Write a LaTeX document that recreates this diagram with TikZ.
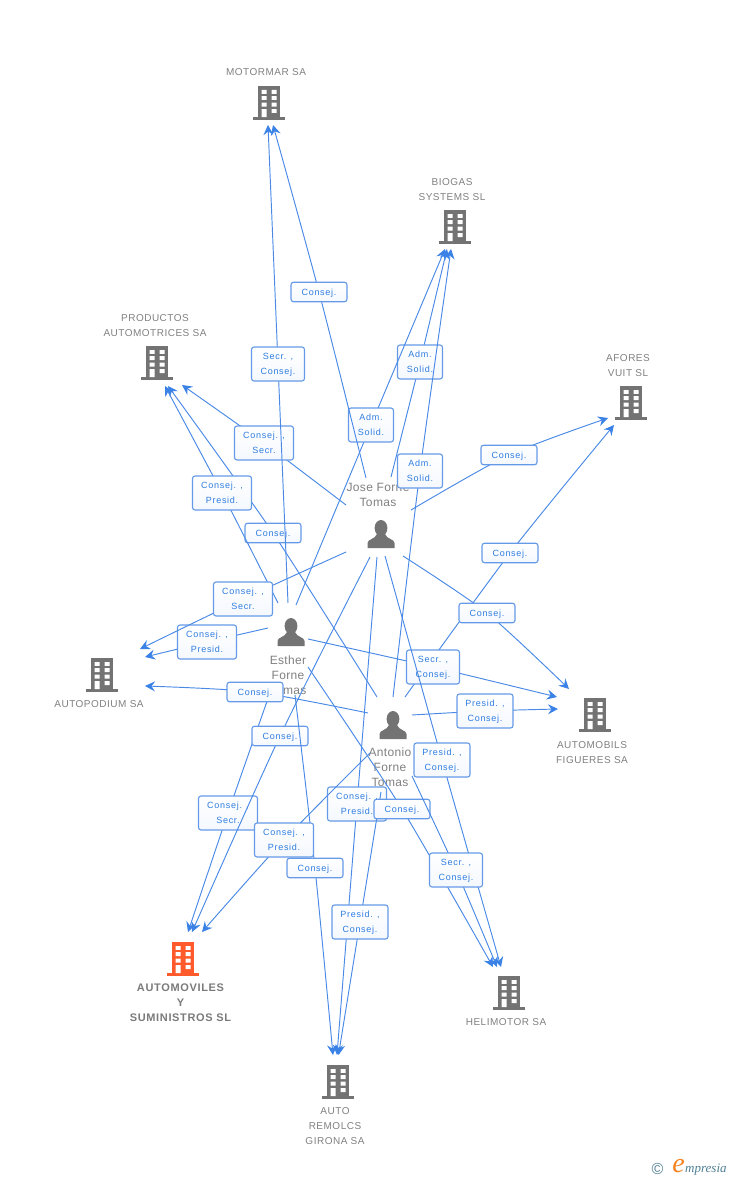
\documentclass[tikz,border=0pt]{standalone}
\usepackage{fontspec}
\setmainfont{Liberation Sans}
\newfontfamily\boxf[LetterSpace=8]{Liberation Sans}
\newfontfamily\orgf[LetterSpace=5]{Liberation Sans}
\newfontfamily\perf[LetterSpace=3]{Liberation Sans}
\newfontfamily\mainorgf[LetterSpace=6]{Liberation Sans}
\newfontfamily\logof{Liberation Serif}
\usetikzlibrary{arrows.meta}
\definecolor{linkblue}{HTML}{4A8AE6}
\definecolor{tipblue}{HTML}{3B82E6}
\definecolor{boxline}{HTML}{659AE8}
\definecolor{boxtext}{HTML}{2F7DE0}
\definecolor{greytext}{HTML}{808080}
\definecolor{icongrey}{HTML}{737373}
\definecolor{iconorange}{HTML}{FF5A2B}
\definecolor{logoteal}{HTML}{4F7F94}
\definecolor{logoorange}{HTML}{F58220}
\tikzset{
  lab/.style={draw=boxline,line width=1.1pt,rounded corners=2.5pt,top color=white,bottom color=white!93!boxline,
    font=\boxf\fontsize{9}{15}\selectfont,text=boxtext,align=center,inner sep=0pt,text depth=0pt,minimum width=#1,minimum height=34pt},
  labone/.style={lab=#1,minimum height=19.5pt},
  link/.style={draw=linkblue,line width=.95pt,-{Stealth[length=10pt,width=10pt,inset=3.5pt,color=tipblue]}},
  orgtext/.style={font=\orgf\fontsize{10}{15}\selectfont,text=greytext,align=center,inner sep=0pt},
  mainorgtext/.style={font=\mainorgf\bfseries\fontsize{11}{15}\selectfont,text=greytext!95!black,align=center,inner sep=0pt},
  pertext/.style={font=\perf\fontsize{12}{15}\selectfont,text=greytext,align=center,inner sep=0pt},
  building/.pic={
    \fill[pic actions] (-11.2,-17) rectangle (11.2,15);
    \fill[pic actions] (-16,14.2) rectangle (16,17);
    \fill[white] (-7.3,-13) rectangle (-2.3,-9.2) (2.7,-13) rectangle (7.7,-9.2)
                 (-7.3,-6.8) rectangle (-2.3,-3) (2.7,-6.8) rectangle (7.7,-3)
                 (-7.3,-.4) rectangle (-2.3,3.6) (2.7,-.4) rectangle (7.7,3.6)
                 (-7.3,6.2) rectangle (-2.3,14.2) (2.7,6.2) rectangle (7.7,10);
  },
  personicon/.pic={
    \fill[icongrey] (0,-6) ellipse (6.4 and 8);
    \fill[icongrey] (-13.5,14) -- (-13.5,9) .. controls (-13.5,5) and (-6,5.5) .. (-4,0)
      -- (4,0) .. controls (6,5.5) and (13.5,5) .. (13.5,9) -- (13.5,14) -- cycle;
  }
}
% from, label name, label position, to, label text, style with width
\newcommand\conn[6]{%
  \coordinate (#2c) at (#3);
  \draw[link] plot[smooth,tension=.45] coordinates {(#1) (#2c) (#4)};
  \node[#6] (#2) at (#2c) {#5};
}
\begin{document}
\begin{tikzpicture}[x=1pt,y=-1pt]
\useasboundingbox (0,0) rectangle (728,1180);

% organisations
\pic[fill=icongrey] at (269,103) {building};
\node[orgtext] (motormar) at (266,72.5) {MOTORMAR SA};
\pic[fill=icongrey] at (455,227) {building};
\node[orgtext] (biogas) at (452,189.5) {BIOGAS\\SYSTEMS SL};
\pic[fill=icongrey] at (157,363) {building};
\node[orgtext] (productos) at (155,326) {PRODUCTOS\\AUTOMOTRICES SA};
\pic[fill=icongrey] at (631,403) {building};
\node[orgtext] (afores) at (628,366) {AFORES\\VUIT SL};
\pic[fill=icongrey] at (102,675) {building};
\node[orgtext] (autopodium) at (99,704.5) {AUTOPODIUM SA};
\pic[fill=icongrey] at (595,715) {building};
\node[orgtext] (automobils) at (592,752.5) {AUTOMOBILS\\FIGUERES SA};
\pic[fill=iconorange] at (183,959) {building};
\node[mainorgtext] (automoviles) at (180.5,1003) {AUTOMOVILES\\Y\\SUMINISTROS SL};
\pic[fill=icongrey] at (509,993) {building};
\node[orgtext] (helimotor) at (506,1022.5) {HELIMOTOR SA};
\pic[fill=icongrey] at (338,1082) {building};
\node[orgtext] (remolcs) at (335,1126.5) {AUTO\\REMOLCS\\GIRONA SA};

% people
\pic at (381,534) {personicon};
\node[pertext] (jose) at (378,494.5) {Jose Forne\\Tomas};
\pic at (291,632) {personicon};
\node[pertext] (esther) at (288,675) {Esther\\Forne\\Tomas};
\pic at (393,725) {personicon};
\node[pertext] (antonio) at (390,767.5) {Antonio\\Forne\\Tomas};

% connector ends at the organisations
\coordinate (tMa) at (268,125);  \coordinate (tMb) at (273,125);
\coordinate (tBa) at (445,249);  \coordinate (tBb) at (447,249);  \coordinate (tBc) at (451,249);
\coordinate (tPa) at (165,386);  \coordinate (tPb) at (168,386);  \coordinate (tPc) at (182,385);
\coordinate (tAa) at (608,418);  \coordinate (tAb) at (614,425);
\coordinate (tUa) at (140,649);  \coordinate (tUb) at (145,657);  \coordinate (tUc) at (145,686);
\coordinate (tFa) at (569,689);  \coordinate (tFb) at (557,697);  \coordinate (tFc) at (558,709);
\coordinate (tSa) at (188,932);  \coordinate (tSb) at (192,932);  \coordinate (tSc) at (202,932);
\coordinate (tHa) at (493,967);  \coordinate (tHb) at (497,967);  \coordinate (tHc) at (501,967);
\coordinate (tRa) at (333,1055); \coordinate (tRb) at (337,1055); \coordinate (tRc) at (338.5,1055);

% connector starts at the people
\coordinate (jM) at (366,478);  \coordinate (jB) at (391,477);  \coordinate (jA) at (411,510);
\coordinate (jP) at (346,505);  \coordinate (jU) at (346,552);  \coordinate (jF) at (403,556);
\coordinate (jS) at (370,557);  \coordinate (jR) at (377,557);  \coordinate (jH) at (385,556);
\coordinate (eM) at (288,603);  \coordinate (eB) at (296,605);  \coordinate (eP) at (278,603);
\coordinate (eU) at (268,628);  \coordinate (eF) at (308,639);  \coordinate (eS) at (271,690);
\coordinate (eR) at (295,695);  \coordinate (eH) at (308,667);
\coordinate (aB) at (393,697);  \coordinate (aA) at (405,697);  \coordinate (aP) at (377,697);
\coordinate (aU) at (368,713);  \coordinate (aF) at (412,715);  \coordinate (aS) at (370,753);
\coordinate (aR) at (381,792);  \coordinate (aH) at (412,776);

% connectors with their labels, in stacking order
\conn{aA}{l01}{510,553}{tAb}{Consej.}{labone=56pt}
\conn{aP}{l02}{273,533}{tPb}{Consej.}{labone=56pt}
\conn{eP}{l03}{222,493}{tPa}{Consej. ,\\Presid.}{lab=59pt}
\conn{jP}{l04}{264,443}{tPc}{Consej. ,\\Secr.}{lab=59pt}
\conn{eM}{l05}{278,364}{tMa}{Secr. ,\\Consej.}{lab=53pt}
\conn{jB}{l06}{420,362}{tBb}{Adm.\\Solid.}{lab=45pt}
\conn{eB}{l07}{371,425}{tBa}{Adm.\\Solid.}{lab=45pt}
\conn{jM}{l08}{319,292}{tMb}{Consej.}{labone=56pt}
\conn{aB}{l09}{420,471}{tBc}{Adm.\\Solid.}{lab=45pt}
\conn{jA}{l10}{509,455}{tAa}{Consej.}{labone=56pt}
\conn{jF}{l11}{487,613}{tFa}{Consej.}{labone=56pt}
\conn{eF}{l12}{433,667}{tFb}{Secr. ,\\Consej.}{lab=53pt}
\conn{aF}{l13}{485,711}{tFc}{Presid. ,\\Consej.}{lab=56pt}
\conn{jH}{l14}{442,760}{tHc}{Presid. ,\\Consej.}{lab=56pt}
\conn{eU}{l15}{207,642}{tUb}{Consej. ,\\Presid.}{lab=59pt}
\conn{jU}{l16}{243,599}{tUa}{Consej. ,\\Secr.}{lab=59pt}
\conn{eS}{l17}{228,813}{tSa}{Consej. ,\\Secr.}{lab=59pt}
\conn{jS}{l18}{280,736}{tSb}{Consej.}{labone=56pt}
\conn{aU}{l19}{255,692}{tUc}{Consej.}{labone=56pt}
\conn{eR}{l20}{315,868}{tRa}{Consej.}{labone=56pt}
\conn{jR}{l21}{357,804}{tRb}{Consej. ,\\Presid.}{lab=59pt}
\conn{aS}{l22}{284,840}{tSc}{Consej. ,\\Presid.}{lab=59pt}
\conn{aR}{l23}{360,922}{tRc}{Presid. ,\\Consej.}{lab=56pt}
\conn{eH}{l24}{402,809}{tHa}{Consej.}{labone=56pt}
\conn{aH}{l25}{456,870}{tHb}{Secr. ,\\Consej.}{lab=53pt}

% logo
\node[inner sep=0pt,text=logoteal,font=\fontsize{16}{16}\selectfont] (copyr) at (657.5,1168.5) {©};
\node[inner sep=0pt,text=logoorange,font=\logof\itshape\fontsize{28}{28}\selectfont] (logoe) at (678.5,1166) {e};
\node[inner sep=0pt,anchor=west,text=logoteal,font=\logof\itshape\fontsize{13}{13}\selectfont] (logot) at (685,1170) {mpresia};
\end{tikzpicture}
\end{document}
